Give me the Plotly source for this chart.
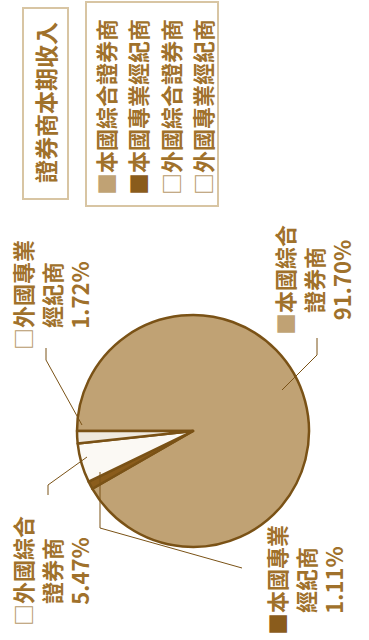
import plotly.graph_objects as go

# Securities firms' revenue share for the period
categories = ["本國綜合證券商", "本國專業經紀商", "外國綜合證券商", "外國專業經紀商"]
shares = [91.70, 1.11, 5.47, 1.72]
label_lines = [["本國綜合", "證券商"], ["本國專業", "經紀商"],
               ["外國綜合", "證券商"], ["外國專業", "經紀商"]]
legend_title = "證券商本期收入"

slice_colors = ["#C0A274", "#8A5C1C", "#FBF9F4", "#EFE9DE"]
key_glyphs = ["■", "■", "□", "□"]
key_colors = ["#C0A274", "#8A5C1C", "#B89B6C", "#B89B6C"]
edge_color = "#7A5216"
text_color = "#A0712B"
frame_color = "#D8C5A3"
font_family = "Noto Sans CJK TC"

W, H = 369, 640


def px(x):
    return x / W


def py(y):
    return 1 - y / H


fig = go.Figure()

# pie: centre (193, 431), radius 116 px
cx, cy, r = 193, 431, 116
fig.add_trace(go.Pie(
    labels=categories,
    values=shares,
    sort=False,
    direction="clockwise",
    rotation=-90,
    marker=dict(colors=slice_colors, line=dict(color=edge_color, width=2.5)),
    textinfo="none",
    hoverinfo="label+percent",
    showlegend=False,
    domain=dict(x=[px(cx - r), px(cx + r)], y=[py(cy + r), py(cy - r)]),
))

annotations = []
shapes = []

# slice labels, set sideways
label_pos = [(312, 280), (304, 580), (50, 571), (50, 295)]
for i, (x, y) in enumerate(label_pos):
    first, second = label_lines[i]
    txt = (f"<span style='color:{key_colors[i]}'>{key_glyphs[i]}</span>{first}"
           f"<br>{second}<br>{shares[i]:.2f}%")
    annotations.append(dict(
        x=px(x), y=py(y), xref="paper", yref="paper", text=txt,
        showarrow=False, textangle=-90, xanchor="center", yanchor="middle",
        align="center", font=dict(family=font_family, size=22, color=text_color,
                                  weight="bold"),
    ))

# leader lines from labels into the slices
leaders = [
    [(317, 338), (317, 355), (282, 390)],
    [(242, 568), (100, 528), (100, 472)],
    [(48, 495), (48, 485), (87, 457)],
    [(46, 348), (46, 360), (82, 425)],
]
for pts in leaders:
    path = "M " + " L ".join(f"{px(x)},{py(y)}" for x, y in pts)
    shapes.append(dict(type="path", xref="paper", yref="paper", path=path,
                       line=dict(color=edge_color, width=1)))

# legend title with its frame
annotations.append(dict(
    x=px(45), y=py(103), xref="paper", yref="paper", text=legend_title,
    showarrow=False, textangle=-90, xanchor="center", yanchor="middle",
    font=dict(family=font_family, size=23, color=text_color, weight="bold"),
))
shapes.append(dict(type="rect", xref="paper", yref="paper",
                   x0=px(23), x1=px(68), y0=py(199), y1=py(8),
                   line=dict(color=frame_color, width=2)))

# legend entries with their frame
legend_x = [105, 137, 170, 202]
for i, x in enumerate(legend_x):
    txt = f"<span style='color:{key_colors[i]}'>{key_glyphs[i]}</span>{categories[i]}"
    annotations.append(dict(
        x=px(x), y=py(107), xref="paper", yref="paper", text=txt,
        showarrow=False, textangle=-90, xanchor="center", yanchor="middle",
        font=dict(family=font_family, size=22, color=text_color, weight="bold"),
    ))
shapes.append(dict(type="rect", xref="paper", yref="paper",
                   x0=px(86), x1=px(218), y0=py(206), y1=py(2),
                   line=dict(color=frame_color, width=2)))

fig.update_layout(
    width=W, height=H,
    margin=dict(l=0, r=0, t=0, b=0),
    paper_bgcolor="white", plot_bgcolor="white",
    annotations=annotations, shapes=shapes,
    showlegend=False,
)

fig.write_html("out.html")
